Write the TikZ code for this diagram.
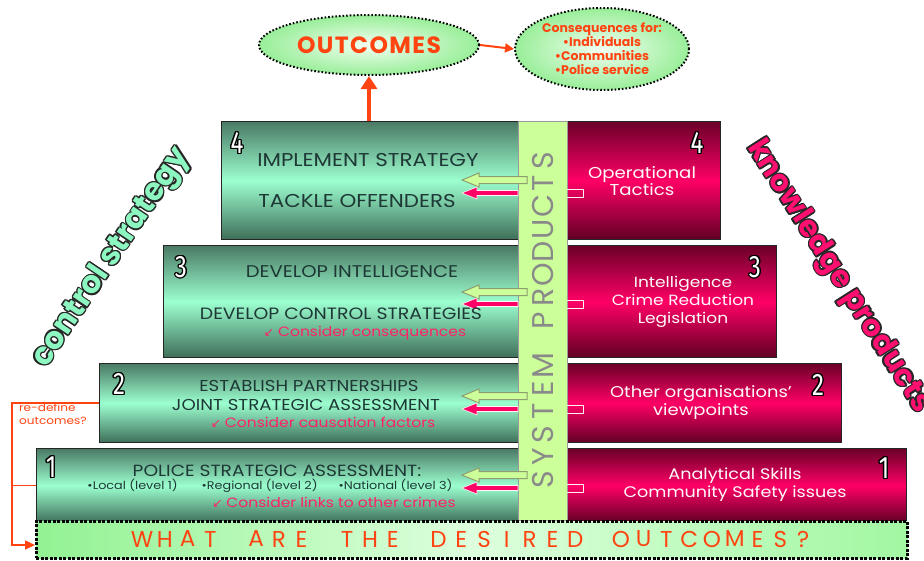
\documentclass[tikz,border=0pt]{standalone}
\usepackage{fontspec}
\setmainfont{Poppins}
\newfontfamily\wide[FakeStretch=1.15]{Poppins}
\newfontfamily\symfont{DejaVu Sans}
\newfontfamily\numfont{Fira Sans}
\usetikzlibrary{arrows.meta,calc,shapes.geometric}
\definecolor{gtop}{HTML}{4A7A64}
\definecolor{gbot}{HTML}{3E6E58}
\definecolor{gmid}{HTML}{9CFFD0}
\definecolor{rtop}{HTML}{6A0028}
\definecolor{rbot}{HTML}{600024}
\definecolor{rmid}{HTML}{FF0066}
\definecolor{txtd}{HTML}{1E3836}
\definecolor{pinkt}{HTML}{FF2266}
\definecolor{oran}{HTML}{FF4411}
\definecolor{colgreen}{HTML}{CCFF99}
\definecolor{olivegray}{HTML}{8E9E70}
\definecolor{ellin}{HTML}{F2FFF2}
\definecolor{ellout}{HTML}{99EE99}
\definecolor{barl}{HTML}{92F292}
\definecolor{barm}{HTML}{DDFFDD}
\definecolor{barr}{HTML}{A2F7A2}
\definecolor{ctlgreen}{HTML}{8CF7C0}
\definecolor{kpink}{HTML}{FF1070}
\definecolor{systxtc}{HTML}{8A8A8A}
\newcommand\outlined[5]{%
  \foreach \a in {0,30,...,330}{\node[#3,text=#4] at ($#2+(\a:1.3)$) {#5};}
  \node[#3] (#1) at #2 {#5};}
\newcommand\fsz[1]{\fontsize{#1}{#1}\selectfont}
\newcommand\sarr{{\symfont\fontsize{12}{12}\selectfont ↙}\ }
\begin{document}
\begin{tikzpicture}[x=1pt,y=-1pt,
  gbox/.style={draw=black!85,line width=1.2pt,inner sep=0pt,anchor=north west,top color=gtop,bottom color=gbot,middle color=gmid},
  rbox/.style={draw=black!85,line width=1.2pt,inner sep=0pt,anchor=north west,top color=rtop,bottom color=rbot,middle color=rmid},
  gtxt/.style={text=txtd,inner sep=0pt},
  ctxt/.style={text=pinkt,font=\wide\fsz{13.5},inner sep=0pt},
  rtxt/.style={text=white!92!pink,align=center,inner sep=0pt},
  numst/.style={text=white,inner sep=0pt,font=\numfont\fontsize{31}{31}\selectfont},
  hollowarr/.style={fill=colgreen,draw=olivegray,line width=1pt},
  pinkarr/.style={fill=rmid,draw=white!85!pink,line width=0.6pt},
  ell/.style={ellipse,draw=black,line width=2pt,dash pattern=on 1.6pt off 2pt,inner color=ellin,outer color=ellout,inner sep=0pt},
  bartxt/.style={text=oran,font=\fontsize{23}{23}\selectfont,inner sep=0pt},
  systxt/.style={text=systxtc,font=\fontsize{30}{30}\selectfont,inner sep=0pt,rotate=90},
  loopline/.style={oran,line width=1.5pt}
]
\useasboundingbox (0,0) rectangle (924,560);
% boxes
\node[gbox,minimum width=309pt,minimum height=118pt] (g4) at (221,121) {};
\node[rbox,minimum width=165pt,minimum height=118pt] (r4) at (555,121) {};
\node[gbox,minimum width=367pt,minimum height=112pt] (g3) at (163,245) {};
\node[rbox,minimum width=221pt,minimum height=112pt] (r3) at (555,245) {};
\node[gbox,minimum width=431pt,minimum height=79pt] (g2) at (99,363) {};
\node[rbox,minimum width=286pt,minimum height=79pt] (r2) at (555,363) {};
\node[gbox,minimum width=494pt,minimum height=74pt] (g1) at (36,448) {};
\node[rbox,minimum width=351pt,minimum height=74pt] (r1) at (555,448) {};
% system column
\node[draw=gray!80,line width=1pt,fill=colgreen,anchor=north west,minimum width=49pt,minimum height=399pt,inner sep=0pt] (sys) at (518,121) {};
\foreach \c [count=\i from 0] in {S,Y,S,T,E,M,,P,R,O,D,U,C,T,S}
  \node[systxt] (sl\i) at (543,480-22.8*\i) {\c};
% bottom bar
\node[draw=black,line width=2.5pt,dash pattern=on 3pt off 1.5pt,left color=barl,right color=barr,middle color=barm,anchor=north west,minimum width=871pt,minimum height=37pt,inner sep=0pt] (bar) at (35,520) {};
\foreach \c [count=\i from 0] in {W,H,A,T,,A,R,E,,T,H,E,,D,E,S,I,R,E,D,,O,U,T,C,O,M,E,S,?}
  \node[bartxt] (bl\i) at (142+22.8*\i,539) {\c};
% inner arrows
\foreach \yh/\yp [count=\k] in {180/193,292/304,396/409,475/488}{
  \draw[hollowarr] (462,\yh) -- (479,\yh-7) -- (479,\yh-3.5) -- (527,\yh-3.5) -- (527,\yh+3.5) -- (479,\yh+3.5) -- (479,\yh+7) -- cycle;
  \draw[pinkarr] (462,\yp) -- (477,\yp-6) -- (477,\yp-2.5) -- (518,\yp-2.5) -- (518,\yp+2.5) -- (477,\yp+2.5) -- (477,\yp+6) -- cycle;
  \draw[white!80!pink,line width=1pt] (567,\yp-4) -- (583,\yp-4) -- (583,\yp+4) -- (567,\yp+4);
}
% ellipses
\node[ell,minimum width=220pt,minimum height=60pt,text=oran,font=\bfseries\fontsize{23.5}{23.5}\selectfont\addfontfeature{LetterSpace=6}] (out) at (369,45) {OUTCOMES};
\node[ell,minimum width=174pt,minimum height=82pt,text=oran,font=\bfseries\fontsize{12.5}{14}\selectfont,align=center] (cons) at (602,49) {Consequences for:\\•Individuals\\•Communities\\•Police service};
\draw[oran,line width=4pt,-{Triangle[width=16pt,length=13pt]}] (g4.north -| out.south) -- (out.south);
\draw[oran,line width=2pt,-{Triangle[width=9pt,length=9pt]}] (out.east) -- (cons.west);
% loop
\coordinate (lpb) at (12,545);
\draw[loopline,-{Triangle[width=9pt,length=10pt]}] (g2.west) -| (lpb) -- (bar.west |- lpb);
\draw[loopline] (g1.west) -- (g1.west -| lpb);
\node[text=oran,font=\wide\fontsize{10.5}{13}\selectfont,align=left,anchor=north west,inner sep=0pt] (redef) at (19,403) {re-define\\outcomes?};
% level 4 texts
\node[gtxt,font=\wide\fsz{18.6}] (t41) at (368,160) {IMPLEMENT STRATEGY};
\node[gtxt,font=\wide\fsz{18.6}] (t42) at (357,201) {TACKLE OFFENDERS};
\node[rtxt,font=\wide\fontsize{15.8}{17.5}\selectfont] (t4r) at (642,181) {Operational\\Tactics};
% level 3
\node[gtxt,font=\wide\fsz{17}] (t31) at (352,272) {DEVELOP INTELLIGENCE};
\node[gtxt,font=\wide\fsz{16.4}] (t32) at (341,314) {DEVELOP CONTROL STRATEGIES};
\node[ctxt] (t33) at (365,333) {\sarr Consider consequences};
\node[rtxt,font=\wide\fontsize{14.8}{18}\selectfont] (t3r) at (683,302) {Intelligence\\Crime Reduction\\Legislation};
% level 2
\node[gtxt,font=\wide\fsz{15.8}] (t21) at (309,386) {ESTABLISH PARTNERSHIPS};
\node[gtxt,font=\wide\fsz{15.8}] (t22) at (306,405) {JOINT STRATEGIC ASSESSMENT};
\node[ctxt] (t23) at (323,422) {\sarr Consider causation factors};
\node[rtxt,font=\wide\fontsize{15.6}{18}\selectfont] (t2r) at (701,403) {Other organisations’\\viewpoints};
% level 1
\node[gtxt,font=\wide\fsz{16.2}] (t11) at (277,471) {POLICE STRATEGIC ASSESSMENT:};
\node[text=txtd,font=\wide\fsz{11.1},inner sep=0pt] (t12) at (270,486) {•Local (level 1)\hspace{24pt}•Regional (level 2)\hspace{21pt}•National (level 3)};
\node[ctxt] (t13) at (334,502) {\sarr Consider links to other crimes};
\node[rtxt,font=\wide\fontsize{15.3}{18}\selectfont] (t1r) at (735,485) {Analytical Skills\\Community Safety issues};
% numbers
\outlined{n4l}{(237,143)}{numst}{black}{\scalebox{0.78}[1]{4}}
\outlined{n4r}{(697,143)}{numst}{black}{\scalebox{0.78}[1]{4}}
\outlined{n3l}{(181,267)}{numst}{black}{\scalebox{0.78}[1]{3}}
\outlined{n3r}{(755,267)}{numst}{black}{\scalebox{0.78}[1]{3}}
\outlined{n2l}{(119,384)}{numst}{black}{\scalebox{0.78}[1]{2}}
\outlined{n2r}{(818,385)}{numst}{black}{\scalebox{0.78}[1]{2}}
\outlined{n1l}{(51,467)}{numst}{black}{\scalebox{0.78}[1]{1}}
\outlined{n1r}{(884,468)}{numst}{black}{\scalebox{0.78}[1]{1}}
% rotated titles
\outlined{ctl}{(112,258)}{rotate=56,text=ctlgreen,font=\bfseries\fontsize{31}{31}\selectfont,inner sep=0pt}{black!85}{control strategy}
\outlined{kp}{(838,277)}{rotate=-57.5,text=kpink,font=\bfseries\fontsize{30}{30}\selectfont,inner sep=0pt}{black!85}{knowledge products}
\end{tikzpicture}
\end{document}
